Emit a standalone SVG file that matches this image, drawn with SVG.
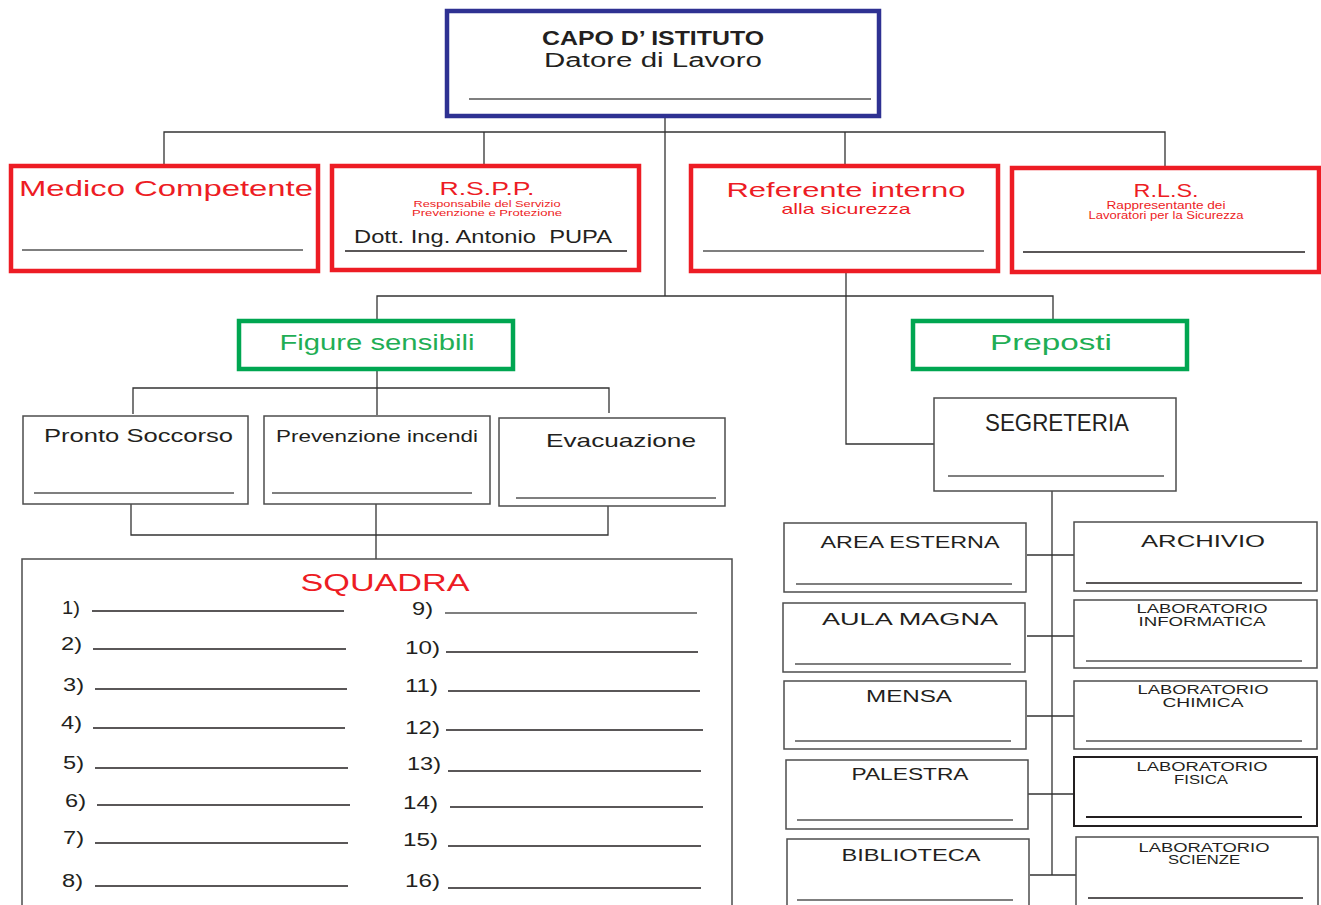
<svg xmlns="http://www.w3.org/2000/svg" width="1321" height="905" viewBox="0 0 1321 905">
<style>
text{font-family:"Liberation Sans",Arial,sans-serif;fill:#231f20}
.red{fill:#ed1c24}
.grn{fill:#1fae55}
.bb{fill:none;stroke:#2e3192;stroke-width:4.5}
.rb{fill:none;stroke:#ed1c24;stroke-width:4.5}
.gb{fill:none;stroke:#00a651;stroke-width:4.5}
.wb{fill:#fff;stroke:#4d4d4d;stroke-width:1.5}
.ul{stroke:#555;stroke-width:1.5}
.ul2{stroke:#231f20;stroke-width:1.5}
.c{fill:none;stroke:#333;stroke-width:1.3}
.mid{text-anchor:middle}
.num text{font-size:18px}
.sm{font-size:16px}
.lab{font-size:12.5px}
</style>
<rect width="1321" height="905" fill="#fff"/>
<g id="connectors">
<path class="c" d="M665 117V296M164 165V132H1165V168M484 132V165M845 132V166"/>
<path class="c" d="M377 320V296H1053V320"/>
<path class="c" d="M846 271V444H934"/>
<path class="c" d="M377 369V415M133 414V388H609V413"/>
<path class="c" d="M131 504V535H608V506M376 504V559"/>
<path class="c" d="M1052 491V875M1027 555H1075M1027 636H1075M1027 716H1075M1028 794H1075M1030 875H1076"/>
</g>
<g id="capo">
<rect class="bb" x="447" y="11" width="432" height="105"/>
<text x="653" y="45" class="mid" font-size="20" font-weight="bold" textLength="222" lengthAdjust="spacingAndGlyphs">CAPO D’ ISTITUTO</text>
<text x="653" y="67" class="mid" font-size="20" textLength="218" lengthAdjust="spacingAndGlyphs">Datore di Lavoro</text>
<line class="ul" x1="469" y1="99" x2="871" y2="99"/>
</g>
<g id="medico">
<rect class="rb" x="11" y="166" width="307" height="105"/>
<text x="19" y="196" class="red" font-size="22" textLength="294" lengthAdjust="spacingAndGlyphs">Medico Competente</text>
<line class="ul" x1="22" y1="250" x2="303" y2="250"/>
</g>
<g id="rspp">
<rect class="rb" x="332" y="166" width="307" height="104"/>
<text x="487" y="195" class="red mid" font-size="19" textLength="95" lengthAdjust="spacingAndGlyphs">R.S.P.P.</text>
<text x="487" y="207" class="red mid" font-size="9.5" textLength="147" lengthAdjust="spacingAndGlyphs">Responsabile del Servizio</text>
<text x="487" y="216" class="red mid" font-size="9.5" textLength="150" lengthAdjust="spacingAndGlyphs">Prevenzione e Protezione</text>
<text x="354" y="243" font-size="19" style="white-space:pre" textLength="258" lengthAdjust="spacingAndGlyphs">Dott. Ing. Antonio  PUPA</text>
<line class="ul2" x1="345" y1="251" x2="627" y2="251"/>
</g>
<g id="referente">
<rect class="rb" x="691" y="166" width="307" height="105"/>
<text x="846" y="197" class="red mid" font-size="20" textLength="239" lengthAdjust="spacingAndGlyphs">Referente interno</text>
<text x="846" y="214" class="red mid" font-size="15" textLength="129" lengthAdjust="spacingAndGlyphs">alla sicurezza</text>
<line class="ul" x1="703" y1="251" x2="984" y2="251"/>
</g>
<g id="rls">
<rect class="rb" x="1012" y="168" width="307" height="104"/>
<text x="1166" y="197" class="red mid" font-size="19" textLength="65" lengthAdjust="spacingAndGlyphs">R.L.S.</text>
<text x="1166" y="209" class="red mid" font-size="10" textLength="119" lengthAdjust="spacingAndGlyphs">Rappresentante dei</text>
<text x="1166" y="219" class="red mid" font-size="10" textLength="155" lengthAdjust="spacingAndGlyphs">Lavoratori per la Sicurezza</text>
<line class="ul2" x1="1023" y1="252" x2="1305" y2="252"/>
</g>
<g id="figure-sensibili">
<rect class="gb" x="239" y="321" width="274" height="48"/>
<text x="377" y="350" class="grn mid" font-size="22" textLength="195" lengthAdjust="spacingAndGlyphs">Figure sensibili</text>
</g>
<g id="preposti">
<rect class="gb" x="913" y="321" width="274" height="48"/>
<text x="1051" y="350" class="grn mid" font-size="22" textLength="122" lengthAdjust="spacingAndGlyphs">Preposti</text>
</g>
<g id="pronto-soccorso">
<rect class="wb" x="23" y="416" width="225" height="88"/>
<text x="44" y="442" font-size="19" textLength="189" lengthAdjust="spacingAndGlyphs">Pronto Soccorso</text>
<line class="ul" x1="34" y1="493" x2="234" y2="493"/>
</g>
<g id="prevenzione-incendi">
<rect class="wb" x="264" y="416" width="226" height="88"/>
<text x="276" y="442" font-size="17" textLength="202" lengthAdjust="spacingAndGlyphs">Prevenzione incendi</text>
<line class="ul" x1="272" y1="493" x2="472" y2="493"/>
</g>
<g id="evacuazione">
<rect class="wb" x="499" y="418" width="226" height="88"/>
<text x="546" y="447" font-size="19" textLength="150" lengthAdjust="spacingAndGlyphs">Evacuazione</text>
<line class="ul" x1="516" y1="498" x2="716" y2="498"/>
</g>
<g id="squadra">
<rect class="wb" x="22" y="559" width="710" height="360"/>
<text x="385" y="591" class="red mid" font-size="24" textLength="169" lengthAdjust="spacingAndGlyphs">SQUADRA</text>
<g class="num">
<text x="62" y="614" textLength="18" lengthAdjust="spacingAndGlyphs">1)</text><line class="ul2" x1="92" y1="611" x2="344" y2="611"/>
<text x="61" y="650" textLength="21" lengthAdjust="spacingAndGlyphs">2)</text><line class="ul2" x1="93" y1="649" x2="346" y2="649"/>
<text x="63" y="691" textLength="21" lengthAdjust="spacingAndGlyphs">3)</text><line class="ul2" x1="95" y1="689" x2="347" y2="689"/>
<text x="61" y="729" textLength="21" lengthAdjust="spacingAndGlyphs">4)</text><line class="ul2" x1="93" y1="728" x2="345" y2="728"/>
<text x="63" y="769" textLength="21" lengthAdjust="spacingAndGlyphs">5)</text><line class="ul2" x1="95" y1="768" x2="348" y2="768"/>
<text x="65" y="807" textLength="21" lengthAdjust="spacingAndGlyphs">6)</text><line class="ul2" x1="97" y1="805" x2="350" y2="805"/>
<text x="63" y="844" textLength="21" lengthAdjust="spacingAndGlyphs">7)</text><line class="ul2" x1="95" y1="843" x2="348" y2="843"/>
<text x="62" y="887" textLength="21" lengthAdjust="spacingAndGlyphs">8)</text><line class="ul2" x1="95" y1="886" x2="348" y2="886"/>
<text x="412" y="615" textLength="21" lengthAdjust="spacingAndGlyphs">9)</text><line class="ul" x1="445" y1="613" x2="697" y2="613"/>
<text x="405" y="654" textLength="35" lengthAdjust="spacingAndGlyphs">10)</text><line class="ul2" x1="446" y1="652" x2="698" y2="652"/>
<text x="405" y="692" textLength="33" lengthAdjust="spacingAndGlyphs">11)</text><line class="ul2" x1="448" y1="691" x2="700" y2="691"/>
<text x="405" y="734" textLength="35" lengthAdjust="spacingAndGlyphs">12)</text><line class="ul2" x1="446" y1="730" x2="703" y2="730"/>
<text x="407" y="770" textLength="34" lengthAdjust="spacingAndGlyphs">13)</text><line class="ul2" x1="448" y1="771" x2="701" y2="771"/>
<text x="403" y="809" textLength="35" lengthAdjust="spacingAndGlyphs">14)</text><line class="ul2" x1="450" y1="807" x2="703" y2="807"/>
<text x="403" y="846" textLength="35" lengthAdjust="spacingAndGlyphs">15)</text><line class="ul2" x1="448" y1="846" x2="701" y2="846"/>
<text x="405" y="887" textLength="35" lengthAdjust="spacingAndGlyphs">16)</text><line class="ul2" x1="448" y1="888" x2="701" y2="888"/>
</g>
</g>
<g id="segreteria">
<rect class="wb" x="934" y="398" width="242" height="93"/>
<text x="1057" y="431" class="mid" font-size="24" textLength="144" lengthAdjust="spacingAndGlyphs">SEGRETERIA</text>
<line class="ul" x1="948" y1="476" x2="1164" y2="476"/>
</g>
<g id="area-esterna">
<rect class="wb" x="784" y="523" width="242" height="69"/>
<text x="910" y="548" class="mid sm" textLength="179" lengthAdjust="spacingAndGlyphs">AREA ESTERNA</text>
<line class="ul" x1="796" y1="584" x2="1012" y2="584"/>
</g>
<g id="aula-magna">
<rect class="wb" x="783" y="603" width="242" height="69"/>
<text x="910" y="625" class="mid sm" textLength="176" lengthAdjust="spacingAndGlyphs">AULA MAGNA</text>
<line class="ul" x1="795" y1="664" x2="1011" y2="664"/>
</g>
<g id="mensa">
<rect class="wb" x="784" y="681" width="242" height="68"/>
<text x="909" y="702" class="mid sm" textLength="86" lengthAdjust="spacingAndGlyphs">MENSA</text>
<line class="ul" x1="795" y1="741" x2="1011" y2="741"/>
</g>
<g id="palestra">
<rect class="wb" x="786" y="760" width="242" height="69"/>
<text x="910" y="780" class="mid sm" textLength="117" lengthAdjust="spacingAndGlyphs">PALESTRA</text>
<line class="ul" x1="797" y1="820" x2="1013" y2="820"/>
</g>
<g id="biblioteca">
<rect class="wb" x="787" y="839" width="242" height="80"/>
<text x="911" y="861" class="mid sm" textLength="139" lengthAdjust="spacingAndGlyphs">BIBLIOTECA</text>
<line class="ul" x1="797" y1="900" x2="1013" y2="900"/>
</g>
<g id="archivio">
<rect class="wb" x="1074" y="522" width="243" height="69"/>
<text x="1203" y="547" class="mid sm" textLength="124" lengthAdjust="spacingAndGlyphs">ARCHIVIO</text>
<line class="ul2" x1="1086" y1="583" x2="1302" y2="583"/>
</g>
<g id="lab-informatica">
<rect class="wb" x="1074" y="600" width="243" height="68"/>
<text x="1202" y="613" class="mid lab" textLength="131" lengthAdjust="spacingAndGlyphs">LABORATORIO</text>
<text x="1202" y="626" class="mid lab" textLength="127" lengthAdjust="spacingAndGlyphs">INFORMATICA</text>
<line class="ul" x1="1086" y1="661" x2="1302" y2="661"/>
</g>
<g id="lab-chimica">
<rect class="wb" x="1074" y="681" width="243" height="68"/>
<text x="1203" y="694" class="mid lab" textLength="131" lengthAdjust="spacingAndGlyphs">LABORATORIO</text>
<text x="1203" y="707" class="mid lab" textLength="81" lengthAdjust="spacingAndGlyphs">CHIMICA</text>
<line class="ul" x1="1086" y1="741" x2="1302" y2="741"/>
</g>
<g id="lab-fisica">
<rect class="wb" x="1074" y="757" width="243" height="69" style="stroke:#231f20;stroke-width:2"/>
<text x="1202" y="771" class="mid lab" textLength="131" lengthAdjust="spacingAndGlyphs">LABORATORIO</text>
<text x="1201" y="784" class="mid lab" textLength="54" lengthAdjust="spacingAndGlyphs">FISICA</text>
<line class="ul2" x1="1086" y1="817" x2="1302" y2="817" style="stroke-width:2"/>
</g>
<g id="lab-scienze">
<rect class="wb" x="1076" y="837" width="242" height="80"/>
<text x="1204" y="852" class="mid lab" textLength="131" lengthAdjust="spacingAndGlyphs">LABORATORIO</text>
<text x="1204" y="864" class="mid lab" textLength="72" lengthAdjust="spacingAndGlyphs">SCIENZE</text>
<line class="ul2" x1="1088" y1="898" x2="1303" y2="898"/>
</g>
</svg>
